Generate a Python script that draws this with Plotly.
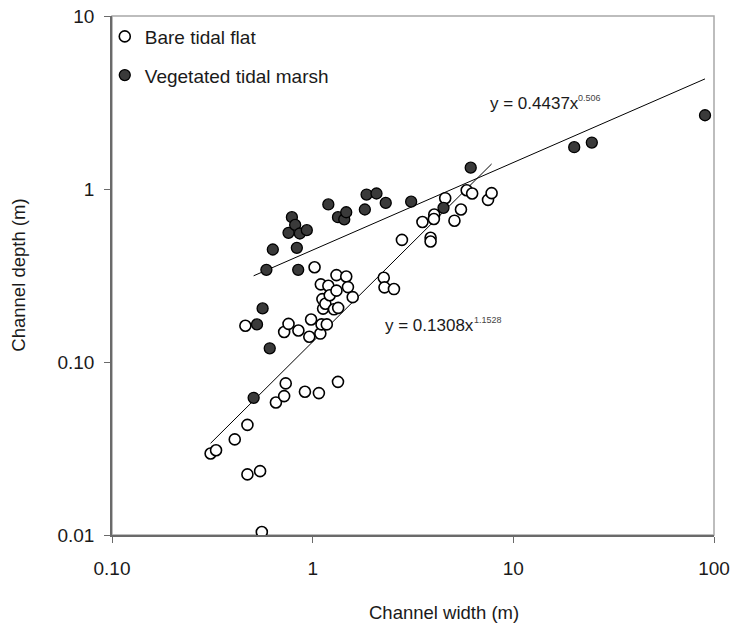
import numpy as np
import plotly.graph_objects as go

# Channel width (m) and depth (m) for bare tidal flat channels
bare_width = [0.310, 0.330, 0.409, 0.462, 0.473, 0.473, 0.547, 0.558, 0.656, 0.721,
              0.734, 0.721, 0.758, 0.849, 0.915, 0.962, 0.982, 1.022, 1.074, 1.092,
              1.107, 1.176, 1.098, 1.118, 1.127, 1.157, 1.197, 1.216, 1.277, 1.314,
              1.314, 1.337, 1.340, 1.470, 1.499, 1.583, 2.261, 2.280, 2.541, 2.785,
              3.524, 3.869, 3.869, 4.036, 4.018, 4.576, 5.088, 5.483, 5.855, 6.235,
              7.478, 7.794]
bare_depth = [0.0296, 0.0309, 0.0357, 0.162, 0.0433, 0.0224, 0.0234, 0.0104, 0.0583, 0.0635,
              0.0752, 0.149, 0.166, 0.152, 0.0673, 0.140, 0.176, 0.353, 0.0661, 0.146,
              0.165, 0.165, 0.281, 0.231, 0.2035, 0.217, 0.276, 0.243, 0.2016, 0.318,
              0.2585, 0.0768, 0.2056, 0.312, 0.271, 0.237, 0.307, 0.270, 0.264, 0.508,
              0.645, 0.523, 0.497, 0.712, 0.671, 0.885, 0.656, 0.761, 0.984, 0.942,
              0.865, 0.946]

# Channel width (m) and depth (m) for vegetated tidal marsh channels
veg_width = [0.508, 0.528, 0.563, 0.588, 0.611, 0.633, 0.758, 0.788, 0.818, 0.834,
             0.847, 0.863, 0.935, 1.197, 1.337, 1.437, 1.470, 1.820, 1.856, 2.080,
             2.313, 3.096, 4.487, 6.132, 20.11, 24.61, 90.2]
veg_depth = [0.0621, 0.165, 0.204, 0.341, 0.120, 0.447, 0.558, 0.687, 0.620, 0.457,
             0.341, 0.553, 0.578, 0.814, 0.687, 0.667, 0.734, 0.761, 0.929, 0.942,
             0.831, 0.845, 0.778, 1.328, 1.744, 1.856, 2.669]

# Power-law fits (coefficient, exponent)
bare_fit = (0.1308, 1.1528)
veg_fit = (0.4437, 0.506)

x_ticks = [0.1, 1, 10, 100]
x_ticktext = ["0.10", "1", "10", "100"]
y_ticks = [0.01, 0.1, 1, 10]
y_ticktext = ["0.01", "0.10", "1", "10"]

FONT = "Liberation Sans, Arial, sans-serif"
TXT = "#1a1a1a"


def fit_line(widths, coef):
    a, b = coef
    xs = np.logspace(np.log10(min(widths)), np.log10(max(widths)), 60)
    return xs, a * xs ** b


fig = go.Figure()

for widths, coef in [(veg_width, veg_fit), (bare_width, bare_fit)]:
    fx, fy = fit_line(widths, coef)
    fig.add_trace(go.Scatter(x=fx, y=fy, mode="lines", showlegend=False,
                             line=dict(color="black", width=1), hoverinfo="skip"))

fig.add_trace(go.Scatter(
    x=bare_width, y=bare_depth, mode="markers", name="Bare tidal flat",
    legendgroup="a",
    marker=dict(symbol="circle", size=11, color="white",
                line=dict(color="black", width=1.6))))
fig.add_trace(go.Scatter(
    x=veg_width, y=veg_depth, mode="markers", name="Vegetated tidal marsh",
    legendgroup="b",
    marker=dict(symbol="circle", size=11, color="#3a3a3a",
                line=dict(color="black", width=1.3))))

# Fit equations, drawn as base text plus a small exponent
eq_font = dict(family=FONT, size=17, color=TXT)
sup_font = dict(family=FONT, size=9, color="#444444")
for base, sup, bx, by, sx, sy in [
    ("y = 0.4437x", "0.506", 7.5, 3.13, 20.6, 3.35),
    ("y = 0.1308x", "1.1528", 2.235, 0.162, 6.2, 0.175),
]:
    fig.add_annotation(x=np.log10(bx), y=np.log10(by), text=base, showarrow=False,
                       xanchor="left", yanchor="middle", font=eq_font)
    fig.add_annotation(x=np.log10(sx), y=np.log10(sy), text=sup, showarrow=False,
                       xanchor="left", yanchor="middle", font=sup_font)

# Axis titles
title_font = dict(family=FONT, size=18.5, color=TXT)
fig.add_annotation(xref="paper", yref="paper", x=0.551, y=-0.150,
                   text="Channel width (m)", showarrow=False,
                   xanchor="center", yanchor="middle", font=title_font)
fig.add_annotation(xref="paper", yref="paper", x=-0.1559, y=0.5,
                   text="Channel depth (m)", showarrow=False, textangle=-90,
                   xanchor="center", yanchor="middle", font=title_font)

# Light frame on top/right, darker axis lines on left/bottom
fig.add_shape(type="rect", xref="paper", yref="paper", x0=0, x1=1, y0=0, y1=1,
              line=dict(color="#a8a8a8", width=1.5), layer="below")

axis_common = dict(
    showgrid=False, zeroline=False, showline=True, linecolor="#6a6a6a", linewidth=1.5,
    ticks="outside", ticklen=6, tickcolor="#6a6a6a", tickwidth=1,
    tickfont=dict(family=FONT, size=19, color=TXT),
    ticklabeloverflow="allow", automargin=False,
)

fig.update_xaxes(type="log", range=[-1, 2], tickvals=x_ticks, ticktext=x_ticktext,
                 ticklabelstandoff=9, **axis_common)
fig.update_yaxes(type="log", range=[-2, 1], tickvals=y_ticks, ticktext=y_ticktext,
                 ticklabelstandoff=6, **axis_common)

fig.update_layout(
    width=732, height=629,
    margin=dict(l=112, r=18, t=16, b=94, autoexpand=False),
    paper_bgcolor="white", plot_bgcolor="white",
    legend=dict(x=-0.012, y=0.997, xanchor="left", yanchor="top",
                font=dict(family=FONT, size=19, color=TXT),
                bgcolor="rgba(0,0,0,0)", tracegroupgap=11, itemwidth=30),
    showlegend=True,
)

fig.write_html("out.html")
